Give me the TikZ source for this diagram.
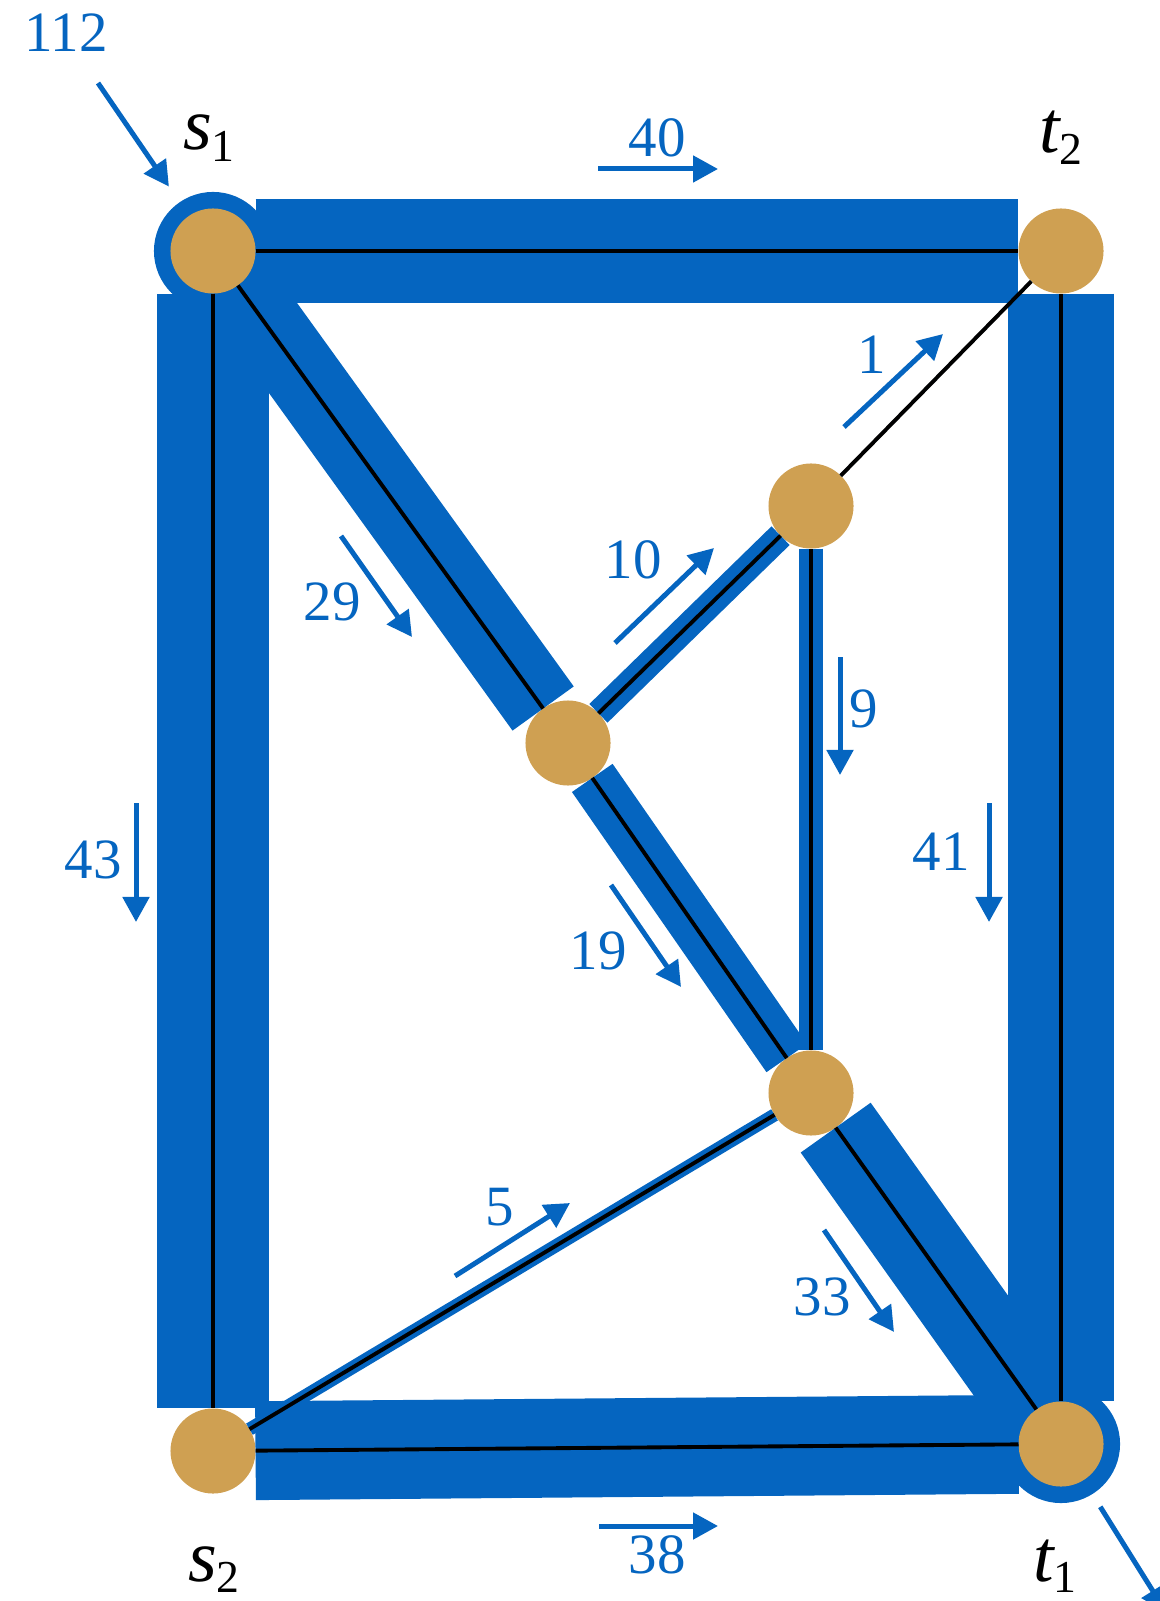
\documentclass[tikz,border=0pt]{standalone}
\usepackage{fontspec}
\setmainfont{Liberation Serif}
\usetikzlibrary{arrows.meta}
\definecolor{flowblue}{RGB}{5,101,192}
\definecolor{vtxtan}{RGB}{207,160,82}
\newcommand{\vname}[2]{{\itshape #1}\raisebox{-3.2pt}{\fontsize{13}{13}\selectfont #2}}

\begin{document}
\begin{tikzpicture}[x=0.01cm, y=-0.01cm,
  vtx/.style={circle, fill=vtxtan, minimum size=0.85cm, inner sep=0pt, outer sep=0pt},
  ringed/.style={preaction={draw=flowblue, line width=0.33cm}},
  bar/.style={draw=flowblue, line width=0.74pt*#1},
  wire/.style={draw=black, line width=1.1pt},
  flow/.style={draw=flowblue, line width=0.05cm, -{Triangle[length=0.25cm, width=0.26cm]}},
  num/.style={flowblue, font=\fontsize{16.2}{18}\selectfont, anchor=base, inner sep=0pt},
  term/.style={font=\fontsize{21}{24}\selectfont, anchor=base, inner sep=0pt}]
\useasboundingbox (0,0) rectangle (1159,1601);
% Vertices (pixel grid, y downwards)
\node[vtx, ringed] (s1) at (213,251) {};
\node[vtx] (t2) at (1061,251) {};
\node[vtx] (s2) at (213,1451) {};
\node[vtx, ringed] (t1) at (1061,1444) {};
\node[vtx] (c) at (568,743) {};
\node[vtx] (u) at (811,506) {};
\node[vtx] (l) at (811,1093) {};
% Flow bars — width proportional to flow
\foreach \a/\b/\f in {s1/t2/40, s1/s2/43, s1/c/29, t2/t1/41, s2/t1/38, s2/l/5,
                      c/u/10, c/l/19, u/t2/1, u/l/9, l/t1/33} {
    \draw[bar=\f] (\a) -- (\b);
}
% Graph edges on top
\foreach \a/\b in {s1/t2, s1/s2, s1/c, t2/t1, s2/t1, s2/l, c/u, c/l, u/t2, u/l, l/t1} {
    \draw[wire] (\a) -- (\b);
}
% Terminal names
\node[term] (ns1) at (209,150) {\vname{s}{1}};
\node[term] (nt2) at (1061,153) {\vname{t}{2}};
\node[term] (ns2) at (214,1581) {\vname{s}{2}};
\node[term] (nt1) at (1055,1581) {\vname{t}{1}};
% Supply and demand
\coordinate (src) at (98,83);
\coordinate (sink) at (1166,1612);
\draw[flow, shorten >=0.355cm] (src) -- (s1);
\draw[flow, shorten <=0.315cm] (t1) -- (sink);
\node[num] (in112) at (66,52) {112};
% Flow arrows with values
\foreach \xa/\ya/\xb/\yb/\val/\lx/\ly in {598/169/718/169/40/657/157,
    136/803/136/922/43/93/878, 989/803/989/922/41/941/870,
    599/1526/718/1526/38/657/1573, 341/536/412/637/29/332/620,
    611/885/681/987/19/598/969, 615/643/714/548/10/633/579,
    844/427/943/334/1/872/374, 840/657/840/775/9/864/727,
    455/1276/570/1203/5/500/1225, 824/1230/894/1332/33/822/1315} {
    \draw[flow] (\xa,\ya) -- (\xb,\yb);
    \node[num] (f\val) at (\lx,\ly) {\val};
}
\end{tikzpicture}
\end{document}
